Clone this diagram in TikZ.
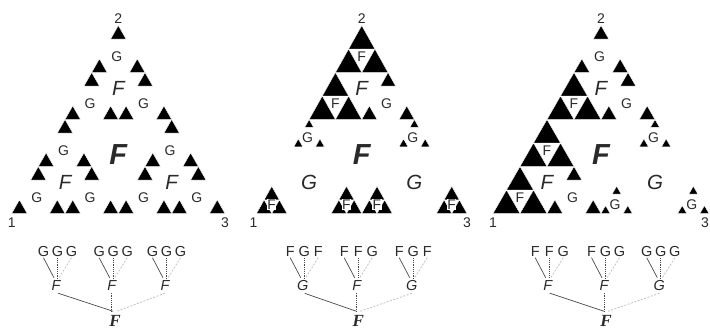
\documentclass[tikz,border=0pt]{standalone}
\usepackage{fontspec}
\setmainfont{Liberation Sans}
\newfontfamily\serifbi{Liberation Serif}
\usepackage{tikz}
\usetikzlibrary{positioning}
\definecolor{ink}{HTML}{2A2A2A}

% ratio of the G map (the F map halves)
\newcommand{\gratio}{0.29}
% black triangle: lower left corner, side
\newcommand{\blk}[3]{\filldraw[black, draw=white, line width=0.4pt] ({#1},{#2}) -- ({#1+#3},{#2}) -- ({#1+(#3)/2},{#2+#3}) -- cycle;}
% second level cells
\newcommand{\Ftwo}[3]{%
  \pgfmathsetmacro{\blkside}{(#3)/2}%
  \blk{#1}{#2}{\blkside}
  \blk{#1+(#3)/4}{#2+(#3)/2}{\blkside}
  \blk{#1+(#3)/2}{#2}{\blkside}
  \node[lbltwo, fill=white, inner sep=0.4pt] at ({#1+(#3)/2},{#2+(#3)/3}) {F};}
\newcommand{\Gtwo}[3]{%
  \pgfmathsetmacro{\blkside}{(#3)*\gratio}%
  \blk{#1}{#2}{\blkside}
  \blk{#1+(#3)/2-\blkside/2}{#2+(#3)-\blkside}{\blkside}
  \blk{#1+(#3)-\blkside}{#2}{\blkside}
  \node[lbltwo, xshift=-1.5pt] at ({#1+(#3)/2},{#2+(#3)/3}) {G};}
% first level cell: type, kids at corner 1,2,3, lower left corner, side
\newcommand{\cellone}[7]{%
  \if#1F\def\kidratio{0.5}\else\let\kidratio\gratio\fi
  \pgfmathsetmacro{\kidside}{(#7)*\kidratio}%
  \pgfmathsetmacro{\kidax}{#5+(#7)/2-\kidside/2}%
  \pgfmathsetmacro{\kiday}{#6+(#7)-\kidside}%
  \pgfmathsetmacro{\kidbx}{#5+(#7)-\kidside}%
  \csname #2two\endcsname{#5}{#6}{\kidside}%
  \csname #3two\endcsname{\kidax}{\kiday}{\kidside}%
  \csname #4two\endcsname{\kidbx}{#6}{\kidside}%
  \node[lblone] at ({#5+(#7)/2},{#6+(#7)/3}) {#1};}

\begin{document}
\begin{tikzpicture}[x=1pt, y=1pt]
\tikzstyle{lblzero}=[font=\fontsize{29}{31}\selectfont\bfseries\itshape, text=ink, yshift=-4pt]
\tikzstyle{lblone}=[font=\fontsize{20.5}{22}\selectfont\itshape, text=ink]
\tikzstyle{lbltwo}=[font=\fontsize{14}{16}\selectfont, text=ink, inner sep=0pt]
\tikzstyle{cornernum}=[font=\fontsize{14}{16}\selectfont, text=ink, inner sep=1pt]
\tikzstyle{leafnode}=[font=\fontsize{14.5}{16}\selectfont, text=ink, inner sep=1pt]
\tikzstyle{midnode}=[font=\fontsize{14.5}{16}\selectfont\itshape, text=ink, inner sep=2.5pt]
\tikzstyle{rootnode}=[font=\fontsize{17}{19}\selectfont\serifbi\bfseries\itshape, text=ink, inner sep=4pt]
\tikzstyle{solidedge}=[draw=ink!85, line width=0.7pt]
\tikzstyle{dashedge}=[draw=ink!85, line width=0.7pt, dash pattern=on 1.2pt off 1pt]
\tikzstyle{lightedge}=[draw=gray!55, line width=0.7pt, dash pattern=on 2pt off 1.5pt]
\useasboundingbox (0,0) rectangle (710,329);

% left gasket: F -> FFF -> GGG
\begin{scope}[shift={(11.7,115.5)}, xscale=213.3, yscale=188]
  \cellone{F}{G}{G}{G}{0}{0}{0.5}
  \cellone{F}{G}{G}{G}{0.25}{0.5}{0.5}
  \cellone{F}{G}{G}{G}{0.5}{0}{0.5}
  \node[lblzero] (big1) at (0.5,1/3) {F};
  \node[cornernum, below, yshift=-3pt] (n11) at (0,0) {1};
  \node[cornernum, above, yshift=1pt] (n12) at (0.5,1) {2};
  \node[cornernum, below, yshift=-3pt] (n13) at (1,0) {3};
\end{scope}

% middle gasket: F -> GFG
\begin{scope}[shift={(256.5,115.5)}, xscale=210.5, yscale=188]
  \cellone{G}{F}{G}{F}{0}{0}{0.5}
  \cellone{F}{F}{F}{G}{0.25}{0.5}{0.5}
  \cellone{G}{F}{G}{F}{0.5}{0}{0.5}
  \node[lblzero] (big2) at (0.5,1/3) {F};
  \node[cornernum, below, yshift=-3pt, xshift=-3pt] (n21) at (0,0) {1};
  \node[cornernum, above, yshift=1pt] (n22) at (0.5,1) {2};
  \node[cornernum, below, yshift=-3pt] (n23) at (1,0) {3};
\end{scope}

% right gasket: F -> FFG
\begin{scope}[shift={(493,115.5)}, xscale=216, yscale=188]
  \cellone{F}{F}{F}{G}{0}{0}{0.5}
  \cellone{F}{F}{G}{G}{0.25}{0.5}{0.5}
  \cellone{G}{G}{G}{G}{0.5}{0}{0.5}
  \node[lblzero] (big3) at (0.5,1/3) {F};
  \node[cornernum, below, yshift=-3pt] (n31) at (0,0) {1};
  \node[cornernum, above, yshift=1pt] (n32) at (0.5,1) {2};
  \node[cornernum, below, yshift=-3pt, xshift=-4pt] (n33) at (1,0) {3};
\end{scope}

% trees
\node[rootnode] (r1) at (115,8) {F};
\node[rootnode] (r2) at (358.3,8) {F};
\node[rootnode] (r3) at (606,8) {F};
\node[midnode] (a1) at (56,43.5) {F};
\node[midnode] (b1) at (111.7,43.5) {F};
\node[midnode] (c1) at (165,43.5) {F};
\node[midnode] (a2) at (302.7,43.5) {G};
\node[midnode] (b2) at (356.7,43.5) {F};
\node[midnode] (c2) at (411.7,43.5) {G};
\node[midnode] (a3) at (547.7,43.5) {F};
\node[midnode] (b3) at (604,43.5) {F};
\node[midnode] (c3) at (659.3,43.5) {G};

\foreach \m/\p/\q/\r in {a1/G/G/G, b1/G/G/G, c1/G/G/G, a2/F/G/F, b2/F/F/G, c2/F/G/F, a3/F/F/G, b3/F/G/G, c3/G/G/G}{
  \node[leafnode] (\m-1) at ([xshift=-12.5pt, yshift=34pt]\m.center) {\p};
  \node[leafnode] (\m-2) at ([xshift=1.5pt, yshift=34pt]\m.center) {\q};
  \node[leafnode] (\m-3) at ([xshift=15.5pt, yshift=34pt]\m.center) {\r};
  \draw[solidedge] (\m-1.south) -- ([xshift=-2pt]\m.north);
  \draw[dashedge] (\m-2.south) -- (\m-2.south |- \m.north);
  \draw[lightedge] (\m-3.south) -- ([xshift=3pt]\m.north);
}
\foreach \t in {1,2,3}{
  \draw[solidedge] ([xshift=2pt]a\t.south) -- ([xshift=-2pt]r\t.north);
  \draw[dashedge] (b\t.south) -- (b\t.south |- r\t.north);
  \draw[lightedge] (c\t.south) -- ([xshift=2pt]r\t.north);
}
\end{tikzpicture}
\end{document}
